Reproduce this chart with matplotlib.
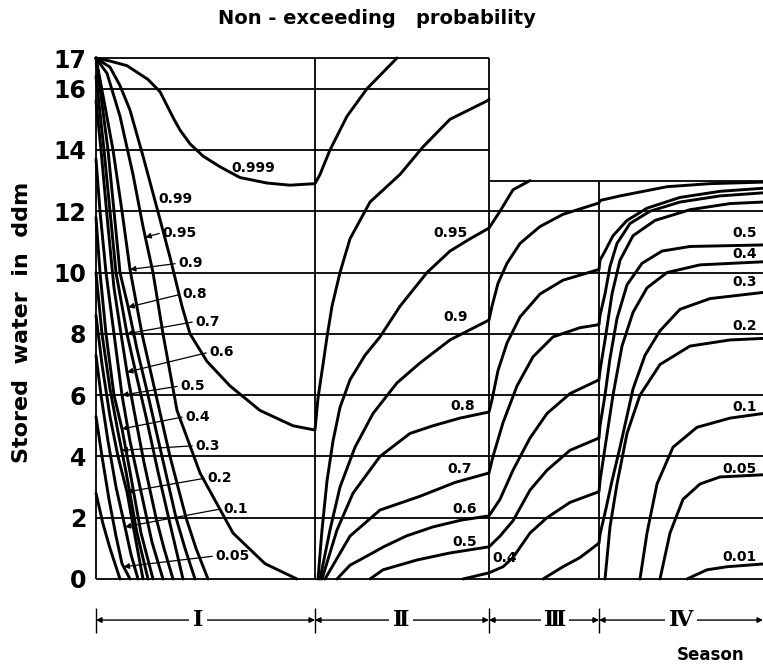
import numpy as np
import matplotlib
matplotlib.use('Agg')
import matplotlib.pyplot as plt

nan = np.nan

# time axis: season limits (arbitrary time units) and storage capacity per season
season_edges = [0, 219, 393, 503, 667]
season_names = ['Ⅰ', 'Ⅱ', 'Ⅲ', 'Ⅳ']
season_top = [17, 17, 13, 13]
storage_ticks = [0, 2, 4, 6, 8, 10, 12, 14, 16, 17]

# non-exceeding probability curves (nan = curve lies on the zero line)
x_999 = [0, 14, 31, 52, 64, 71, 78, 84, 94, 107, 124, 144, 171, 194, 219, 224, 234, 251, 271, 301]
y_999 = [17, 16.9, 16.75, 16.3, 15.9, 15.45, 15.0, 14.65, 14.2, 13.8, 13.45, 13.1, 12.92, 12.85, 12.9, 13.2, 14.0, 15.1, 16.0, 17]

x_99 = [0, 14, 24, 34, 47, 61, 74, 86, 94, 111, 134, 164, 197, 219, 222, 227, 231, 236, 244, 254, 274, 304, 327, 354, 391, 393]
y_99 = [17, 16.7, 16.1, 15.3, 13.8, 12.1, 10.5, 8.9, 8.0, 7.1, 6.3, 5.5, 5.0, 4.86, 5.9, 7.0, 7.9, 8.9, 10.0, 11.1, 12.3, 13.2, 14.1, 15.0, 15.6, 15.65]

x_95 = [0, 11, 24, 37, 47, 57, 67, 81, 104, 137, 169, 201, nan, 222, 226, 231, 237, 244, 254, 269, 284, 304, 331, 354, 374, 393, 404, 417, 434]
y_95 = [17, 16.5, 15.1, 13.2, 11.5, 10.0, 8.0, 5.5, 3.46, 1.5, 0.5, 0, nan, 0, 1.6, 3.2, 4.5, 5.6, 6.5, 7.3, 7.9, 8.9, 10.0, 10.7, 11.1, 11.45, 12.0, 12.7, 13.0]

x_90 = [0, 8, 17, 26, 34, 46, 60, 74, 90, 100, 112, nan, 224, 234, 244, 259, 277, 301, 324, 354, 393, 396, 402, 411, 424, 444, 467, 503, 504, 524, 571, 614, 667]
y_90 = [17, 15.6, 14, 12, 10.1, 8, 6, 4, 2, 1, 0, nan, 0, 1.6, 3.0, 4.3, 5.4, 6.4, 7.05, 7.8, 8.45, 8.9, 9.65, 10.3, 10.95, 11.5, 11.9, 12.27, 12.35, 12.5, 12.8, 12.9, 12.95]

x_80 = [0, 6, 12, 18, 24, 32, 41, 52, 66, 80, 89, 99, nan, 226, 241, 257, 284, 314, 337, 364, 393, 396, 402, 411, 424, 444, 467, 503, 504, 509, 517, 531, 551, 584, 624, 667]
y_80 = [17, 15.5, 14, 12, 10, 8.9, 7.5, 6, 4, 2, 1, 0, nan, 0, 1.6, 2.8, 4.0, 4.75, 5.0, 5.25, 5.45, 5.85, 6.8, 7.7, 8.55, 9.3, 9.75, 10.1, 10.4, 10.7, 11.2, 11.7, 12.1, 12.45, 12.65, 12.75]

x_70 = [0, 8, 14, 20, 31, 40, 50, 62, 74, 87, nan, 229, 254, 284, 324, 359, 393, 397, 407, 421, 437, 457, 484, 503, 504, 509, 514, 521, 534, 554, 584, 624, 667]
y_70 = [16.4, 14, 12, 10, 8, 6.7, 5.3, 3.5, 1.8, 0, nan, 0, 1.4, 2.25, 2.7, 3.15, 3.46, 4.0, 5.1, 6.3, 7.25, 7.9, 8.2, 8.3, 8.6, 9.3, 10.2, 10.95, 11.6, 12.0, 12.3, 12.5, 12.6]

x_60 = [0, 5, 12, 18, 25, 31, 38, 48, 60, 68, 77, nan, 241, 254, 271, 287, 310, 337, 365, 393, 404, 417, 434, 451, 474, 503, 504, 510, 516, 524, 537, 559, 594, 634, 667]
y_60 = [15.6, 14, 11.5, 9.5, 8, 6.75, 5.5, 3.8, 2, 1, 0, nan, 0, 0.45, 0.75, 1.04, 1.4, 1.7, 1.92, 2.06, 2.6, 3.55, 4.6, 5.4, 6.05, 6.5, 6.8, 8.0, 9.3, 10.4, 11.2, 11.7, 12.05, 12.25, 12.3]

x_50 = [0, 4, 10, 18, 26, 34, 44, 56, 67, nan, 274, 287, 321, 354, 393, 404, 417, 434, 451, 474, 503, 504, 509, 514, 521, 531, 546, 566, 594, 667]
y_50 = [13.7, 12, 10, 8, 6, 4.5, 3, 1.2, 0, nan, 0, 0.3, 0.62, 0.85, 1.05, 1.4, 1.9, 2.9, 3.55, 4.2, 4.6, 5.0, 6.0, 7.2, 8.5, 9.6, 10.3, 10.7, 10.85, 10.9]

x_40 = [0, 4, 10, 18, 26, 34, 45, 57, nan, 367, 380, 393, 407, 417, 434, 451, 474, 503, 504, 510, 517, 526, 537, 551, 571, 604, 667]
y_40 = [11.8, 10, 8, 6, 4.9, 3.5, 1.5, 0, nan, 0, 0.1, 0.2, 0.4, 0.7, 1.5, 2.0, 2.5, 2.85, 3.2, 4.5, 6.0, 7.6, 8.7, 9.5, 10.0, 10.25, 10.35]

x_30 = [0, 6, 14, 22, 30, 41, 52, nan, 447, 467, 484, 503, 504, 510, 516, 524, 537, 549, 564, 584, 614, 667]
y_30 = [10, 8, 6.2, 4.8, 3.5, 1.5, 0, nan, 0, 0.4, 0.7, 1.17, 1.45, 2.3, 3.2, 4.3, 6.2, 7.3, 8.1, 8.8, 9.15, 9.35]

x_20 = [0, 6, 14, 22, 31, 39, 47, nan, 509, 514, 521, 531, 544, 564, 594, 634, 667]
y_20 = [8.6, 7, 5.3, 4, 2.84, 1.4, 0, nan, 0, 1.7, 3.1, 4.75, 6.0, 7.0, 7.6, 7.8, 7.85]

x_10 = [0, 5, 12, 20, 29, 35, 42, nan, 544, 551, 561, 577, 601, 634, 667]
y_10 = [7.3, 6, 4.5, 3, 1.7, 0.8, 0, nan, 0, 1.5, 3.1, 4.3, 4.95, 5.25, 5.4]

x_05 = [0, 6, 13, 20, 26, 34, nan, 564, 574, 587, 604, 624, 667]
y_05 = [5.3, 4, 2.6, 1.4, 0.5, 0, nan, 0, 1.5, 2.6, 3.1, 3.33, 3.4]

x_01 = [0, 7, 14, 24, nan, 591, 611, 631, 667]
y_01 = [2.8, 1.8, 1, 0, nan, 0, 0.3, 0.4, 0.49]

curves = {
    '0.999': (x_999, y_999), '0.99': (x_99, y_99), '0.95': (x_95, y_95),
    '0.9': (x_90, y_90), '0.8': (x_80, y_80), '0.7': (x_70, y_70),
    '0.6': (x_60, y_60), '0.5': (x_50, y_50), '0.4': (x_40, y_40),
    '0.3': (x_30, y_30), '0.2': (x_20, y_20), '0.1': (x_10, y_10),
    '0.05': (x_05, y_05), '0.01': (x_01, y_01),
}

# season I labels: storage level where each arrow touches its curve
s1_labels = ['0.99', '0.95', '0.9', '0.8', '0.7', '0.6', '0.5', '0.4', '0.3', '0.2', '0.1', '0.05']
s1_tip_y = [12.37, 11.15, 10.1, 8.87, 8.0, 6.75, 6.0, 4.9, 4.2, 2.84, 1.7, 0.4]
s1_text_xy = [(62, 12.4), (66, 11.3), (82, 10.3), (86, 9.3), (99, 8.4), (113, 7.4),
              (84, 6.3), (89, 5.3), (99, 4.35), (111, 3.3), (127, 2.3), (119, 0.75)]

s2_labels = ['0.95', '0.9', '0.8', '0.7', '0.6', '0.5']
s2_text_xy = [(372, 11.3), (372, 8.55), (379, 5.65), (376, 3.6), (381, 2.3), (381, 1.2)]

s4_labels = ['0.5', '0.4', '0.3', '0.2', '0.1', '0.05', '0.01']
s4_text_y = [11.3, 10.6, 9.7, 8.25, 5.6, 3.6, 0.72]

fig = plt.figure(figsize=(7.63, 6.64), dpi=100)
ax = fig.add_axes([96 / 763, 85 / 664, 667 / 763, 521 / 664])
ax.set_xlim(0, 667)
ax.set_ylim(0, 17)
for s in ax.spines.values():
    s.set_visible(False)

# grid / frame of each season
for i in range(4):
    levels = list(range(0, season_top[i], 2)) + [season_top[i]]
    ax.hlines(levels, season_edges[i], season_edges[i + 1], color='black', lw=1.3, clip_on=False)
for i in range(4):
    top = season_top[i] if i == 0 else max(season_top[i - 1], season_top[i])
    ax.vlines(season_edges[i], 0, top, color='black', lw=1.3, clip_on=False)

for name, (xs, ys) in curves.items():
    ax.plot(xs, ys, color='black', lw=2.1, solid_joinstyle='round', solid_capstyle='round', clip_on=False)

lab = dict(fontsize=10, fontweight='bold')
ax.text(157, 13.4, '0.999', ha='center', va='center', **lab)

for name, ty, (tx, tyy) in zip(s1_labels, s1_tip_y, s1_text_xy):
    xs, ys = curves[name]
    xs = np.array(xs)
    ys = np.array(ys)
    cut = np.argmax(np.isnan(xs)) if np.isnan(xs).any() else len(xs)
    seg_x, seg_y = xs[:cut], ys[:cut]
    if name == '0.99':
        seg_x, seg_y = seg_x[seg_x <= 219], seg_y[seg_x <= 219]
    tipx = np.interp(ty, seg_y[::-1], seg_x[::-1])
    style = '-' if name == '0.99' else '-|>'
    ax.annotate(name, xy=(tipx, ty), xytext=(tx, tyy), ha='left', va='center',
                arrowprops=dict(arrowstyle=style, color='black', lw=0.9, mutation_scale=8,
                                shrinkA=0, shrinkB=0, relpos=(0, 0.5)), **lab)

for name, (tx, ty) in zip(s2_labels, s2_text_xy):
    ax.text(tx, ty, name, ha='right', va='center', **lab)
ax.text(396, 0.68, '0.4', ha='left', va='center', **lab)

for name, ty in zip(s4_labels, s4_text_y):
    ax.text(661, ty, name, ha='right', va='center', **lab)

ax.set_xticks([])
ax.set_yticks(storage_ticks)
ax.set_yticklabels([str(v) for v in storage_ticks], fontsize=17, fontweight='bold')
ax.tick_params(axis='y', length=0, pad=7)

# season bracket below the axis
yb = -1.34
name_x = [102, 305, 459, 585]
ax.vlines(season_edges[:4], -1.76, -0.95, color='black', lw=1.0, clip_on=False)
for i in range(4):
    for end in (season_edges[i], season_edges[i + 1]):
        ax.annotate('', xy=(end, yb), xytext=(name_x[i], yb), annotation_clip=False,
                    arrowprops=dict(arrowstyle='-|>', color='black', lw=1.0,
                                    mutation_scale=8, shrinkA=0, shrinkB=0))
    ax.text(name_x[i], yb, season_names[i], ha='center', va='center', fontsize=16,
            fontweight='bold', family=['DejaVu Serif'], zorder=5,
            bbox=dict(boxstyle='square,pad=0.15', fc='white', ec='none'))

ax.text(615, -2.48, 'Season', ha='center', va='center', fontsize=12, fontweight='bold')

fig.text(377 / 763, 1 - 18 / 664, 'Non - exceeding   probability', ha='center', va='center',
         fontsize=14, fontweight='bold')
fig.text(22 / 763, 1 - 322 / 664, 'Stored  water  in  ddm', ha='center', va='center',
         rotation=90, fontsize=16, fontweight='bold')

fig.savefig('out.png', dpi=100)
